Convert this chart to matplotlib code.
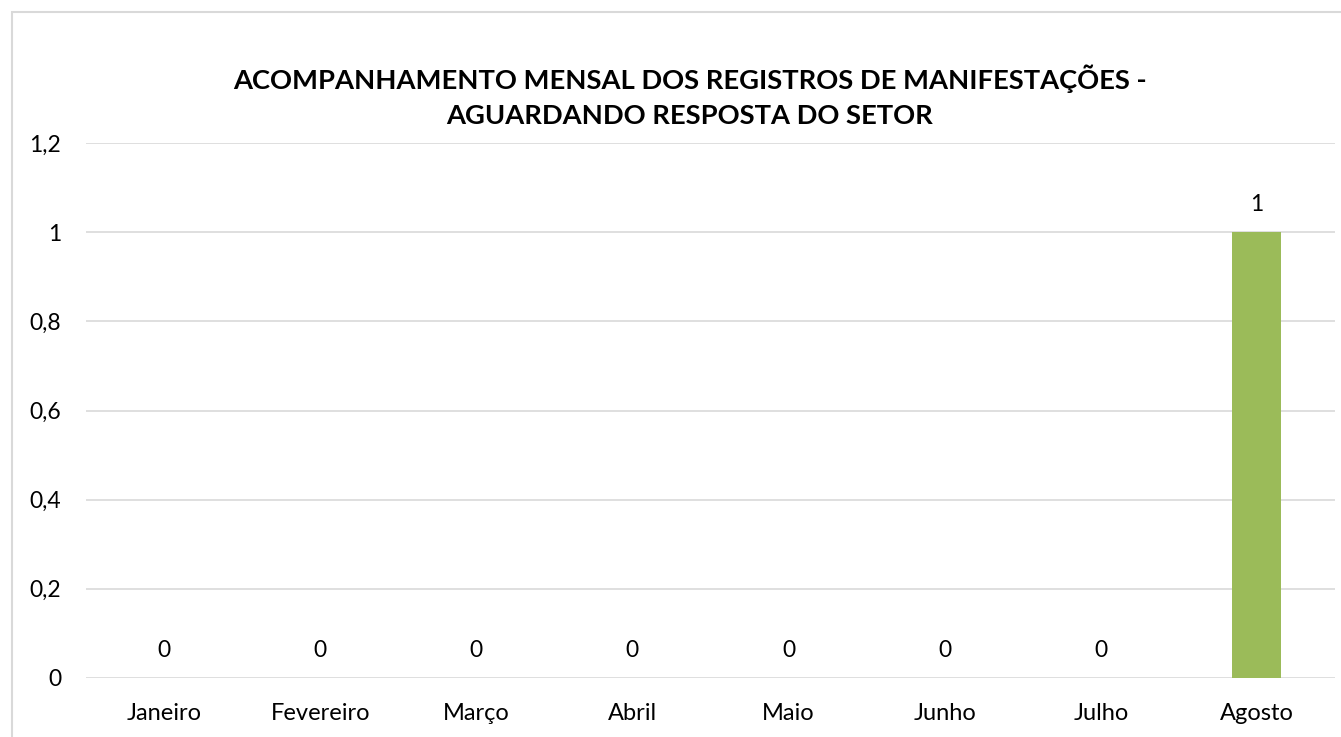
import matplotlib.pyplot as plt
from matplotlib.patches import Rectangle

meses = ["Janeiro", "Fevereiro", "Março", "Abril", "Maio", "Junho", "Julho", "Agosto"]
aguardando = [0, 0, 0, 0, 0, 0, 0, 1]
y_ticks = [0, 0.2, 0.4, 0.6, 0.8, 1, 1.2]
y_labels = ["0", "0,2", "0,4", "0,6", "0,8", "1", "1,2"]

plt.rcParams['font.family'] = ['Lato', 'DejaVu Sans']

fig = plt.figure(figsize=(13.41, 7.37), dpi=100)
ax = fig.add_axes([86 / 1341, 1 - 678 / 737, 1249 / 1341, 535 / 737])

# borda do gráfico (estilo Excel)
fig.patches.append(Rectangle((12 / 1341, -0.1), 1.2, 1 - 12 / 737 + 0.1,
                             transform=fig.transFigure, fill=False,
                             edgecolor='#D9D9D9', linewidth=1.5))

x = range(len(meses))
ax.bar(x, aguardando, width=0.314, color='#9BBB59', zorder=3)

for i, v in enumerate(aguardando):
    ax.annotate(f'{v}', (i, v), xytext=(0, 20), textcoords='offset points',
                ha='center', va='center', fontsize=16.5, color='black')

ax.set_xlim(-0.5, len(meses) - 0.5)
ax.set_ylim(0, 1.2)
ax.set_yticks(y_ticks)
ax.set_yticklabels(y_labels, fontsize=16.5)
ax.set_xticks(list(x))
ax.set_xticklabels(meses, fontsize=17)
ax.tick_params(length=0)
ax.tick_params(axis='y', pad=18)
ax.tick_params(axis='x', pad=18)
ax.grid(axis='y', color='#D9D9D9', linewidth=1.2, zorder=0)
for s in ax.spines.values():
    s.set_visible(False)

fig.text(690 / 1341, 1 - 96 / 737,
         'ACOMPANHAMENTO MENSAL DOS REGISTROS DE MANIFESTAÇÕES -\nAGUARDANDO RESPOSTA DO SETOR',
         ha='center', va='center', fontsize=19.7, fontweight='bold', linespacing=1.55)

fig.savefig('out.png', dpi=100)
